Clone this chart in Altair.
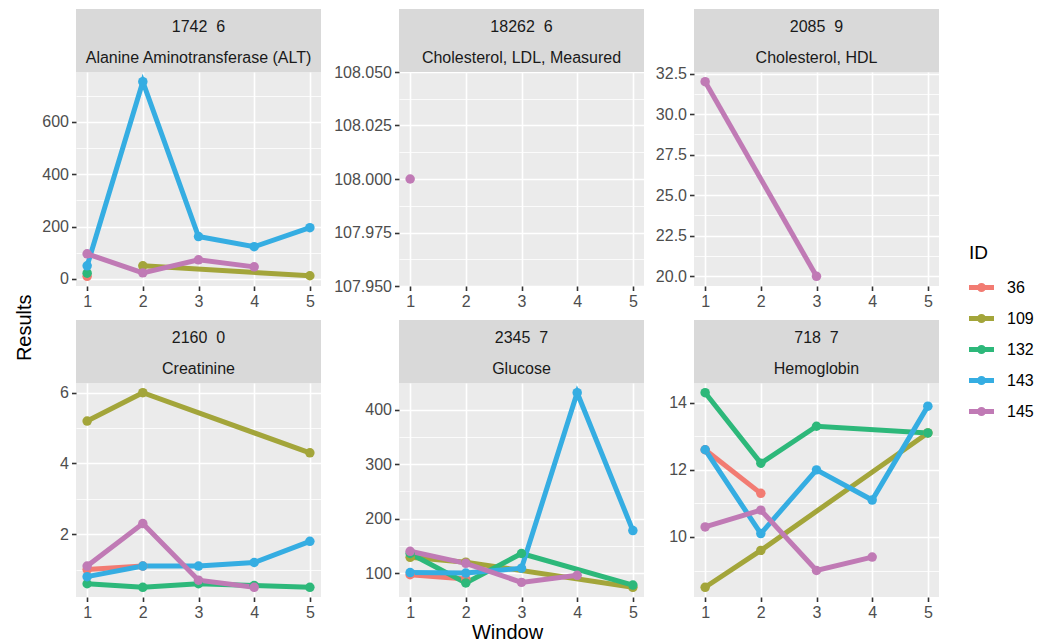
import json
import altair as alt
import pandas as pd

# ---------------- data ----------------
ids = ["36", "109", "132", "143", "145"]
colors = ["#F27B72", "#A3A53A", "#2DB87A", "#35ADE2", "#C07AB5"]
windows = [1, 2, 3, 4, 5]

strip_top = ["1742\u00a0\u00a06", "18262\u00a0\u00a06", "2085\u00a0\u00a09",
             "2160\u00a0\u00a00", "2345\u00a0\u00a07", "718\u00a0\u00a07"]
strip_bottom = ["Alanine Aminotransferase (ALT)", "Cholesterol, LDL, Measured",
                "Cholesterol, HDL", "Creatinine", "Glucose", "Hemoglobin"]

N = None
alt_results = {
    "36":  [10, N, N, N, N],
    "109": [N, 50, N, N, 12],
    "132": [22, N, N, N, N],
    "143": [50, 754, 162, 123, 196],
    "145": [96, 23, 73, 46, N],
}
ldl_results = {"145": [108.0, N, N, N, N]}
hdl_results = {"145": [32, N, 20, N, N]}
creat_results = {
    "36":  [1.0, 1.1, N, N, N],
    "109": [5.2, 6.0, N, N, 4.3],
    "132": [0.6, 0.5, 0.6, 0.55, 0.5],
    "143": [0.8, 1.1, 1.1, 1.2, 1.8],
    "145": [1.1, 2.3, 0.7, 0.5, N],
}
gluc_results = {
    "36":  [97, 89, N, N, N],
    "109": [129, 120, N, N, 74],
    "132": [136, 82, 136, N, 78],
    "143": [101, 100, 109, 431, 178],
    "145": [140, 118, 83, 96, N],
}
hemo_results = {
    "36":  [12.6, 11.3, N, N, N],
    "109": [8.5, 9.6, N, N, 13.1],
    "132": [14.3, 12.2, 13.3, N, 13.1],
    "143": [12.6, 10.1, 12.0, 11.1, 13.9],
    "145": [10.3, 10.8, 9.0, 9.4, N],
}
panel_results = [alt_results, ldl_results, hdl_results,
                 creat_results, gluc_results, hemo_results]

y_majors = [[0, 200, 400, 600],
            [107.95, 107.975, 108.0, 108.025, 108.05],
            [20, 22.5, 25, 27.5, 30, 32.5],
            [2, 4, 6],
            [100, 200, 300, 400],
            [10, 12, 14]]
y_minors = [[100, 300, 500, 700],
            [107.9625, 107.9875, 108.0125, 108.0375],
            [21.25, 23.75, 26.25, 28.75, 31.25],
            [1, 3, 5],
            [150, 250, 350],
            [9, 11, 13]]
y_formats = ["d", ".3f", ".1f", "d", "d", "d"]

x_majors = [1, 2, 3, 4, 5]
x_minors = [1.5, 2.5, 3.5, 4.5]

# ---------------- style ----------------
FONT = "Liberation Sans"
PW, PH, SH = 245, 214, 63
COL_EXTENT = [36, 68, 40]
ROW_XEXTENT = [34, 0]
color_scale = alt.Scale(domain=ids, range=colors)
path_symbol = ("M-1,-0.2H1V0.2H-1Z "
               "M0.36,0A0.36,0.36 0 1,1 -0.36,0A0.36,0.36 0 1,1 0.36,0Z")
legend = alt.Legend(
    title="ID", orient="none", legendX=893, legendY=172,
    symbolType=path_symbol, symbolSize=625, symbolStrokeWidth=0,
    symbolOpacity=1, labelFontSize=16, labelColor="black", labelFont=FONT,
    titleFontSize=19, titleFontWeight="normal", titleColor="black", titleFont=FONT,
    rowPadding=10, titlePadding=12, labelOffset=13, padding=0,
)


def make_axis(majors, minors, fmt, extent):
    test = "indexof(%s, datum.value) >= 0" % json.dumps(majors)
    return alt.Axis(
        values=sorted(majors + minors), format=fmt, title=None,
        labelExpr="%s ? datum.label : ''" % test,
        labelOverlap=False, labelFlush=False,
        grid=True, gridColor="white",
        gridWidth={"condition": {"test": test, "value": 1.6}, "value": 0.8},
        ticks=True, tickSize=4.5, tickWidth=1.6, tickColor="#333333",
        tickOpacity={"condition": {"test": test, "value": 1}, "value": 0},
        domain=False, labelFontSize=16, labelColor="#4D4D4D", labelPadding=3,
        labelFont=FONT, minExtent=extent, maxExtent=max(extent, 30),
    )


def make_panel(i, col, row):
    rows = []
    for sid, vals in panel_results[i].items():
        for w, v in zip(windows, vals):
            if v is not None:
                rows.append({"Window": w, "Results": v, "ID": sid})
    df = pd.DataFrame(rows)
    lo, hi = df["Results"].min(), df["Results"].max()
    pad = 0.05 * (hi - lo) if hi > lo else 0.05
    ydom = [lo - pad, hi + pad]

    x = alt.X("Window:Q", scale=alt.Scale(domain=[0.8, 5.2], nice=False, zero=False),
              axis=make_axis(x_majors, x_minors, "d", ROW_XEXTENT[row]))
    y = alt.Y("Results:Q", scale=alt.Scale(domain=ydom, nice=False, zero=False),
              axis=make_axis(y_majors[i], y_minors[i], y_formats[i], COL_EXTENT[col]))
    color = alt.Color("ID:N", scale=color_scale, legend=legend)
    base = alt.Chart(df)
    line = base.mark_line(strokeWidth=5).encode(x=x, y=y, color=color)
    pts = base.mark_circle(size=90, opacity=1).encode(x=x, y=y, color=color)

    # facet strip above the panel
    sdf = pd.DataFrame({"top": [strip_top[i]], "bottom": [strip_bottom[i]]})
    sbase = alt.Chart(sdf)
    srect = sbase.mark_rect(color="#D9D9D9").encode(
        x=alt.value(0), x2=alt.value(PW), y=alt.value(-SH), y2=alt.value(0))
    t1 = sbase.mark_text(fontSize=16, font=FONT, color="#1A1A1A", baseline="middle").encode(
        text="top:N", x=alt.value(PW / 2), y=alt.value(-SH + 17.5))
    t2 = sbase.mark_text(fontSize=16, font=FONT, color="#1A1A1A", baseline="middle").encode(
        text="bottom:N", x=alt.value(PW / 2), y=alt.value(-SH + 49))
    return alt.layer(srect, t1, t2, line, pts).properties(
        width=PW, height=PH,
        view=alt.ViewBackground(fill="#EBEBEB", stroke=None))


cols = [alt.vconcat(make_panel(c, c, 0), make_panel(c + 3, c, 1), spacing=0)
        for c in range(3)]
grid = alt.hconcat(*cols, spacing=10).resolve_scale(x="independent", y="independent")
with_y = alt.hconcat(grid, title=alt.Title("Results", orient="left", anchor="middle",
                                              fontSize=20, fontWeight="normal",
                                              color="black", font=FONT, offset=5, dx=-13))
chart = alt.vconcat(with_y, title=alt.Title("Window", orient="bottom", anchor="middle",
                                            fontSize=20, fontWeight="normal",
                                            color="black", font=FONT, offset=2, dx=-17)
                    ).properties(padding={"left": 7, "top": 1, "right": 0, "bottom": 0}
                    ).configure(font=FONT).configure_view(stroke=None)

chart.save("out.html", embed_options={"renderer": "svg", "actions": False})
